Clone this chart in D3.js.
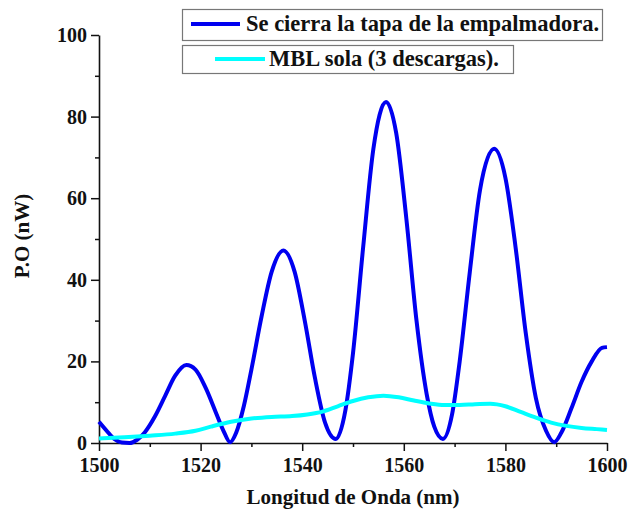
<!DOCTYPE html>
<html><head><meta charset="utf-8">
<script src="https://cdn.jsdelivr.net/npm/d3@7"></script>
<style>
html,body{margin:0;padding:0;background:#fff;}
text{font-family:"Liberation Serif","Times New Roman",serif;font-weight:bold;fill:#111;}
</style></head>
<body><svg id="c" width="630" height="514"></svg>
<script>
// Data
const xDomain = [1500, 1600];
const yDomain = [0, 100];
const xTickValues = [1500, 1520, 1540, 1560, 1580, 1600];
const yTickValues = [0, 20, 40, 60, 80, 100];
const seriesNames = ["Se cierra la tapa de la empalmadora.", "MBL sola (3 descargas)."];
const seriesColors = ["#0000f0", "#00ffff"];
const blueX = [1500,1501.5,1503,1504.5,1506,1507.5,1509,1511,1513,1515,1517.2,1519,1521,1523,1524.5,1525.8,1527,1528.5,1530,1532,1534,1536.3,1538.5,1540.5,1542.5,1544.5,1546.6,1548.5,1550,1552,1554,1556.5,1558.5,1560.5,1562.5,1564.5,1566,1567.7,1569.5,1571,1573,1575,1577.8,1580,1582,1584,1586,1588,1589.6,1591,1593,1595,1597,1599,1600];
const blueY = [5.2,3,1,0.1,0,0.8,2.6,6.5,11.5,16.5,19.1,18,13.5,7.5,3,0.2,2.5,9,18,31,42,47.2,42,30,16,5,1,8,22,48,72,83.6,76,55,30,12,4,1,7,20,42,62,72.1,65,48,27,11,3,0.2,2.5,8.5,15,20,23.3,23.5];
const cyanX = [1500,1505,1510,1515,1519,1522,1526,1530,1534,1538,1541,1544,1547,1550,1553,1556,1559,1562,1565,1568,1571,1574,1577,1580,1583,1586,1589,1592,1595,1598,1600];
const cyanY = [1.1,1.4,1.8,2.3,3,4,5.2,6,6.4,6.6,7,7.7,9,10.3,11.2,11.6,11.2,10.4,9.7,9.3,9.3,9.5,9.6,9,7.6,6.2,5,4.2,3.7,3.4,3.2];

const svg = d3.select("#c");
const x = d3.scaleLinear().domain(xDomain).range([99, 607]);
const y = d3.scaleLinear().domain(yDomain).range([443, 35]);

const xMinor = d3.range(1510, 1600, 20);
const yMinor = d3.range(10, 100, 20);

const axStroke = "#111";
const gx = svg.append("g").attr("transform","translate(0,443)");
gx.call(d3.axisBottom(x).tickValues(xTickValues).tickFormat(d3.format("d")).tickSizeInner(8).tickSizeOuter(0).tickPadding(7));
gx.append("g").call(d3.axisBottom(x).tickValues(xMinor).tickFormat("").tickSizeInner(4).tickSizeOuter(0)).select(".domain").remove();
const gy = svg.append("g").attr("transform","translate(99,0)");
gy.call(d3.axisLeft(y).tickValues(yTickValues).tickSizeInner(8).tickSizeOuter(0).tickPadding(4));
gy.append("g").call(d3.axisLeft(y).tickValues(yMinor).tickFormat("").tickSizeInner(4).tickSizeOuter(0)).select(".domain").remove();
svg.selectAll(".domain").attr("stroke",axStroke).attr("stroke-width",1.6);
svg.selectAll(".tick line").attr("stroke",axStroke).attr("stroke-width",1.5);
svg.selectAll(".tick text").attr("font-family","Liberation Serif, serif").attr("font-weight","bold").attr("font-size",20).attr("fill","#111");

svg.append("text").attr("x",353).attr("y",504).attr("text-anchor","middle").attr("font-size",21).text("Longitud de Onda (nm)");
svg.append("text").attr("transform","translate(29,236) rotate(-90)").attr("text-anchor","middle").attr("font-size",21).text("P.O (nW)");

const line = d3.line().x(d=>x(d[0])).y(d=>y(d[1])).curve(d3.curveMonotoneX);
const blue = blueX.map((v,i)=>[v, blueY[i]]);
const cyan = cyanX.map((v,i)=>[v, cyanY[i]]);
svg.append("path").datum(blue).attr("d",line).attr("fill","none").attr("stroke",seriesColors[0]).attr("stroke-width",4).attr("stroke-linejoin","round");
svg.append("path").datum(cyan).attr("d",line).attr("fill","none").attr("stroke",seriesColors[1]).attr("stroke-width",4).attr("stroke-linejoin","round");

const legends = [
  {box:[182,9,420,31], line:[191,240,24], tx:246, ty:31},
  {box:[182,45,331,28], line:[215,265,59], tx:269, ty:66}
];
legends.forEach((L,i)=>{
  svg.append("rect").attr("x",L.box[0]+0.5).attr("y",L.box[1]+0.5).attr("width",L.box[2]).attr("height",L.box[3]).attr("fill","#fff").attr("stroke","#777").attr("stroke-width",1.2);
  svg.append("line").attr("x1",L.line[0]).attr("x2",L.line[1]).attr("y1",L.line[2]).attr("y2",L.line[2]).attr("stroke",seriesColors[i]).attr("stroke-width",4);
  svg.append("text").attr("x",L.tx).attr("y",L.ty).attr("font-size",22.5).text(seriesNames[i]);
});
</script></body></html>
